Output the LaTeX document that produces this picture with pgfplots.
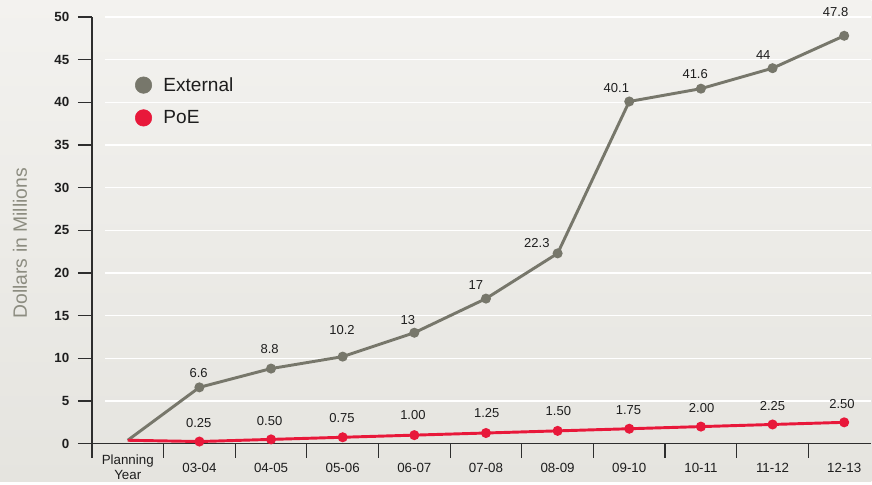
\documentclass[border=0pt]{standalone}
\usepackage{fontspec}
\setmainfont{Liberation Sans}
\usepackage{pgfplots}
\pgfplotsset{compat=1.18}
\definecolor{extgray}{HTML}{77776B}
\definecolor{poered}{HTML}{E8183A}
\definecolor{bgtop}{HTML}{F3F2EF}
\definecolor{bgbot}{HTML}{E5E4DF}
\definecolor{axisdark}{HTML}{2E2E2E}
\definecolor{labgray}{HTML}{8C8C80}
\definecolor{txt}{HTML}{1E1E1E}
\begin{document}
\begin{tikzpicture}
\shade[top color=bgtop, bottom color=bgbot] (0,0) rectangle (654pt,361.5pt);
\begin{axis}[
  at={(69pt,28.5pt)}, anchor=south west,
  scale only axis, width=585pt, height=320.25pt,
  xmin=-0.5, xmax=10.379, ymin=0, ymax=50,
  axis x line=bottom, axis y line=left,
  axis line style={-, axisdark, line width=1pt},
  ytick={0,5,...,50},
  xtick={-0.5,0.5,...,9.5},
  xticklabels={},
  extra x ticks={0,1,...,10},
  extra x tick labels={{Planning\\Year},03-04,04-05,05-06,06-07,07-08,08-09,09-10,10-11,11-12,12-13},
  extra x tick style={major tick length=0pt, tick style={draw=none},
    xticklabel style={font=\fontsize{10}{11.3}\selectfont, text=txt, align=center, anchor=center, yshift=-18pt}},
  tick align=outside, major tick length=10.5pt,
  tick style={axisdark, line width=0.9pt},
  clip=false,
  /pgf/number format/assume math mode=true,
  yticklabel style={font=\bfseries\fontsize{10}{12}\selectfont, text=txt, xshift=-3pt},
  ylabel={Dollars in Millions},
  every axis y label/.style={at={(axis description cs:-0.0923,0.4696)}, rotate=90, anchor=center, font=\fontsize{14.5}{16}\selectfont, text=labgray},
  legend style={draw=none, fill=none, at={(axis description cs:0.0498,0.872)}, anchor=north west, font=\fontsize{14.3}{16}\selectfont, text=txt, row sep=9pt},
  legend cell align=left,
  legend entries={External,PoE},
]
\addlegendimage{legend image code/.code={\fill[extgray] (0pt,0pt) circle (6.2pt); \path (12.75pt,0pt);}}
\addlegendimage{legend image code/.code={\fill[poered] (0pt,0pt) circle (6.2pt); \path (12.75pt,0pt);}}
\pgfplotsinvokeforeach{5,10,...,50}{\draw[white, line width=1pt] (axis cs:-0.32,#1) -- (axis cs:10.379,#1);}
% External
\addplot[forget plot, extgray, line width=2.2pt, mark=*, mark size=2.6pt, mark indices={2,3,4,5,6,7,8,9,10,11}] coordinates {
(0,0.4) (1,6.6) (2,8.8) (3,10.2) (4,13) (5,17) (6,22.3) (7,40.1) (8,41.6) (9,44) (10,47.8)};
% PoE
\addplot[forget plot, poered, line width=2.2pt, mark=*, mark size=2.6pt, mark indices={2,3,4,5,6,7,8,9,10,11}] coordinates {
(0,0.4) (1,0.25) (2,0.50) (3,0.75) (4,1.00) (5,1.25) (6,1.50) (7,1.75) (8,2.00) (9,2.25) (10,2.50)};
% External labels
\addplot[forget plot, draw=none, mark=none, nodes near coords, point meta=explicit symbolic,
  nodes near coords style={anchor=center, font=\fontsize{9.75}{11}\selectfont, text=txt}] coordinates {
(0.99,8.31)[6.6] (1.98,11.12)[8.8] (2.99,13.35)[10.2] (3.91,14.52)[13] (4.86,18.62)[17] (5.71,23.54)[22.3]
(6.82,41.69)[40.1] (7.92,43.33)[41.6] (8.87,45.55)[44] (9.88,50.59)[47.8]};
% PoE labels
\addplot[forget plot, draw=none, mark=none, nodes near coords, point meta=explicit symbolic,
  nodes near coords style={anchor=center, font=\fontsize{9.75}{11}\selectfont, text=txt}] coordinates {
(0.99,2.46)[0.25] (1.98,2.69)[0.50] (2.99,3.04)[0.75] (3.98,3.40)[1.00] (5.01,3.63)[1.25] (6.01,3.86)[1.50]
(6.99,3.98)[1.75] (8.01,4.22)[2.00] (9.00,4.45)[2.25] (9.97,4.68)[2.50]};
\end{axis}
\end{tikzpicture}
\end{document}
